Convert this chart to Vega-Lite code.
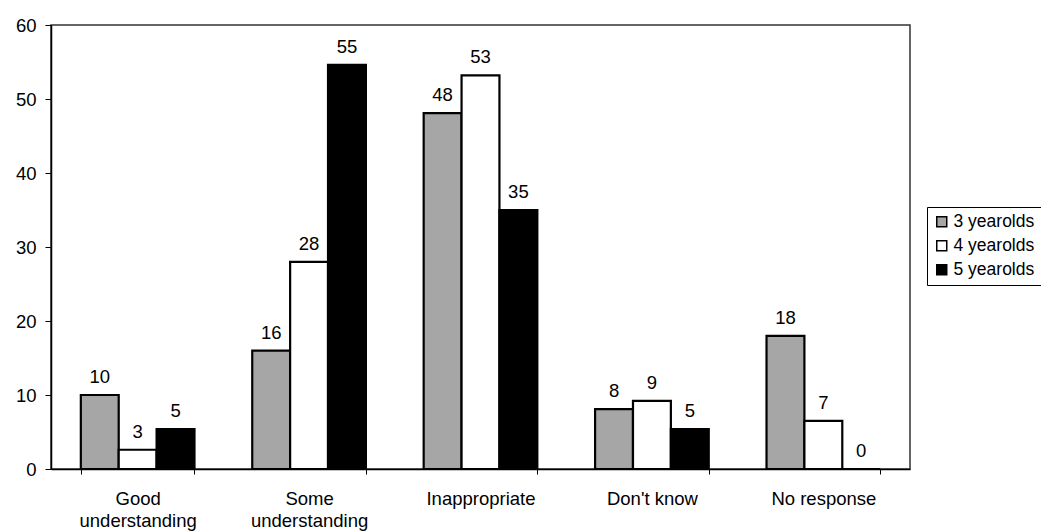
{
  "$schema": "https://vega.github.io/schema/vega-lite/v6.json",
  "width": 859,
  "height": 444,
  "autosize": {"type": "none"},
  "padding": {"left": 51, "top": 25, "right": 131, "bottom": 62},
  "background": "white",
  "config": {
    "font": "Liberation Sans",
    "view": {"stroke": "#333333", "strokeWidth": 1.5}
  },
  "data": {
    "values": [
      {"category": "Good understanding", "age": "3 yearolds", "value": 10, "label": "10"},
      {"category": "Good understanding", "age": "4 yearolds", "value": 2.6, "label": "3"},
      {"category": "Good understanding", "age": "5 yearolds", "value": 5.4, "label": "5"},
      {"category": "Some understanding", "age": "3 yearolds", "value": 16, "label": "16"},
      {"category": "Some understanding", "age": "4 yearolds", "value": 28, "label": "28"},
      {"category": "Some understanding", "age": "5 yearolds", "value": 54.6, "label": "55"},
      {"category": "Inappropriate", "age": "3 yearolds", "value": 48.1, "label": "48"},
      {"category": "Inappropriate", "age": "4 yearolds", "value": 53.2, "label": "53"},
      {"category": "Inappropriate", "age": "5 yearolds", "value": 35, "label": "35"},
      {"category": "Don't know", "age": "3 yearolds", "value": 8.1, "label": "8"},
      {"category": "Don't know", "age": "4 yearolds", "value": 9.2, "label": "9"},
      {"category": "Don't know", "age": "5 yearolds", "value": 5.4, "label": "5"},
      {"category": "No response", "age": "3 yearolds", "value": 18, "label": "18"},
      {"category": "No response", "age": "4 yearolds", "value": 6.5, "label": "7"},
      {"category": "No response", "age": "5 yearolds", "value": 0, "label": "0"}
    ]
  },
  "encoding": {
    "x": {
      "field": "category",
      "type": "nominal",
      "sort": ["Good understanding", "Some understanding", "Inappropriate", "Don't know", "No response"],
      "scale": {"paddingInner": 0.337, "paddingOuter": 0.174},
      "axis": {
        "title": null,
        "labelAngle": 0,
        "tickBand": "extent",
        "tickSize": 5,
        "tickColor": "black",
        "domainColor": "black",
        "domainWidth": 1.5,
        "labelColor": "black",
        "labelFontSize": 18.5,
        "labelPadding": 15,
        "labelLineHeight": 22,
        "labelBaseline": "top",
        "labelExpr": "indexof(datum.label, 'understanding') > 0 ? split(datum.label, ' ') : datum.label"
      }
    },
    "xOffset": {
      "field": "age",
      "type": "nominal",
      "sort": ["3 yearolds", "4 yearolds", "5 yearolds"]
    },
    "y": {
      "field": "value",
      "type": "quantitative",
      "scale": {"domain": [0, 60]},
      "axis": {
        "title": null,
        "values": [0, 10, 20, 30, 40, 50, 60],
        "grid": false,
        "tickSize": 6,
        "tickColor": "black",
        "domainColor": "black",
        "domainWidth": 1.5,
        "labelColor": "black",
        "labelFontSize": 18.5,
        "labelPadding": 9
      }
    }
  },
  "layer": [
    {
      "mark": {"type": "bar", "stroke": "black", "strokeWidth": 2.2},
      "encoding": {
        "fill": {
          "field": "age",
          "type": "nominal",
          "scale": {
            "domain": ["3 yearolds", "4 yearolds", "5 yearolds"],
            "range": ["#a6a6a6", "#ffffff", "#000000"]
          },
          "legend": {
            "title": null,
            "orient": "none",
            "legendX": 876,
            "legendY": 182,
            "strokeColor": "black",
            "padding": 6,
            "symbolType": "square",
            "symbolSize": 100,
            "symbolStrokeColor": "black",
            "symbolStrokeWidth": 1.5,
            "labelFontSize": 17.5,
            "labelColor": "black",
            "rowPadding": 5,
            "labelOffset": 3
          }
        }
      }
    },
    {
      "mark": {"type": "text", "baseline": "bottom", "dy": -8, "fontSize": 18.5, "color": "black"},
      "encoding": {"text": {"field": "label"}}
    }
  ]
}
